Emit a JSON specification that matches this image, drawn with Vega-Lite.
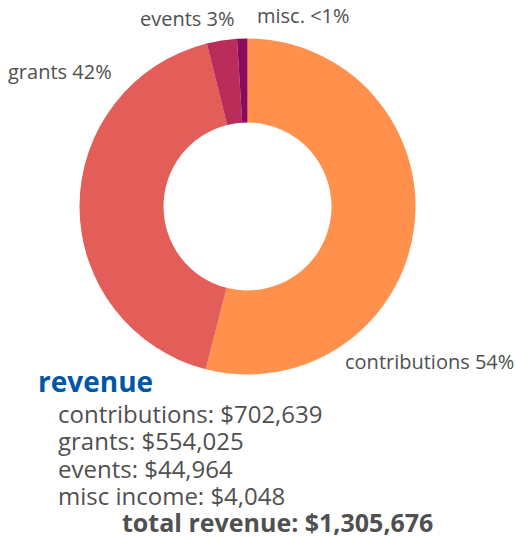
{
  "$schema": "https://vega.github.io/schema/vega-lite/v6.json",
  "width": 495,
  "height": 413,
  "autosize": {"type": "none"},
  "padding": {"left": 0, "top": 0, "right": 21, "bottom": 126},
  "background": "white",
  "config": {"view": {"stroke": null}, "font": "Open Sans"},
  "data": {"values": [
    {"name": "contributions", "item": "contributions", "label": "contributions 54%", "amount": 702639, "share": 54.0},
    {"name": "grants", "item": "grants", "label": "grants 42%", "amount": 554025, "share": 42.1},
    {"name": "events", "item": "events", "label": "events 3%", "amount": 44964, "share": 2.9},
    {"name": "misc", "item": "misc income", "label": "misc. <1%", "amount": 4048, "share": 1.0}
  ]},
  "layer": [
    {
      "mark": {"type": "arc", "outerRadius": 168, "innerRadius": 84},
      "encoding": {
        "theta": {"field": "share", "type": "quantitative", "stack": true},
        "order": {"field": "share", "sort": "descending"},
        "color": {"field": "name", "type": "nominal", "legend": null,
          "scale": {"domain": ["contributions", "grants", "events", "misc"], "range": ["#FF914D", "#E35D59", "#BA2D5B", "#8C0A5A"]}}
      }
    },
    {
      "transform": [{"filter": "datum.name === 'contributions'"}],
      "mark": {"type": "text", "align": "left", "baseline": "alphabetic", "x": 345, "y": 369, "fontSize": 20, "color": "#505050"},
      "encoding": {"text": {"field": "label"}}
    },
    {
      "transform": [{"filter": "datum.name === 'grants'"}],
      "mark": {"type": "text", "align": "left", "baseline": "alphabetic", "x": 8, "y": 79, "fontSize": 20, "color": "#505050"},
      "encoding": {"text": {"field": "label"}}
    },
    {
      "transform": [{"filter": "datum.name === 'events'"}],
      "mark": {"type": "text", "align": "left", "baseline": "alphabetic", "x": 140, "y": 26, "fontSize": 20, "color": "#505050"},
      "encoding": {"text": {"field": "label"}}
    },
    {
      "transform": [{"filter": "datum.name === 'misc'"}],
      "mark": {"type": "text", "align": "left", "baseline": "alphabetic", "x": 257, "y": 23, "fontSize": 20, "color": "#505050"},
      "encoding": {"text": {"field": "label"}}
    },
    {
      "transform": [{"calculate": "datum.item + ': ' + format(datum.amount, '$,')", "as": "line"}],
      "mark": {"type": "text", "align": "left", "baseline": "alphabetic", "x": 58, "fontSize": 24, "color": "#505050"},
      "encoding": {
        "y": {"field": "item", "type": "ordinal", "sort": null, "axis": null,
          "scale": {"type": "point", "domain": ["contributions", "grants", "events", "misc income"], "range": [423, 505], "padding": 0}},
        "text": {"field": "line"}
      }
    },
    {
      "data": {"values": [{"heading": "revenue"}]},
      "mark": {"type": "text", "align": "left", "baseline": "alphabetic", "x": 38, "y": 392, "fontSize": 28, "fontWeight": "bold", "color": "#0057A8"},
      "encoding": {"text": {"field": "heading"}}
    },
    {
      "transform": [
        {"aggregate": [{"op": "sum", "field": "amount", "as": "total"}]},
        {"calculate": "'total revenue: ' + format(datum.total, '$,')", "as": "totalLine"}
      ],
      "mark": {"type": "text", "align": "left", "baseline": "alphabetic", "x": 122, "y": 532, "fontSize": 25, "fontWeight": "bold", "color": "#505050"},
      "encoding": {"text": {"field": "totalLine"}}
    }
  ]
}
